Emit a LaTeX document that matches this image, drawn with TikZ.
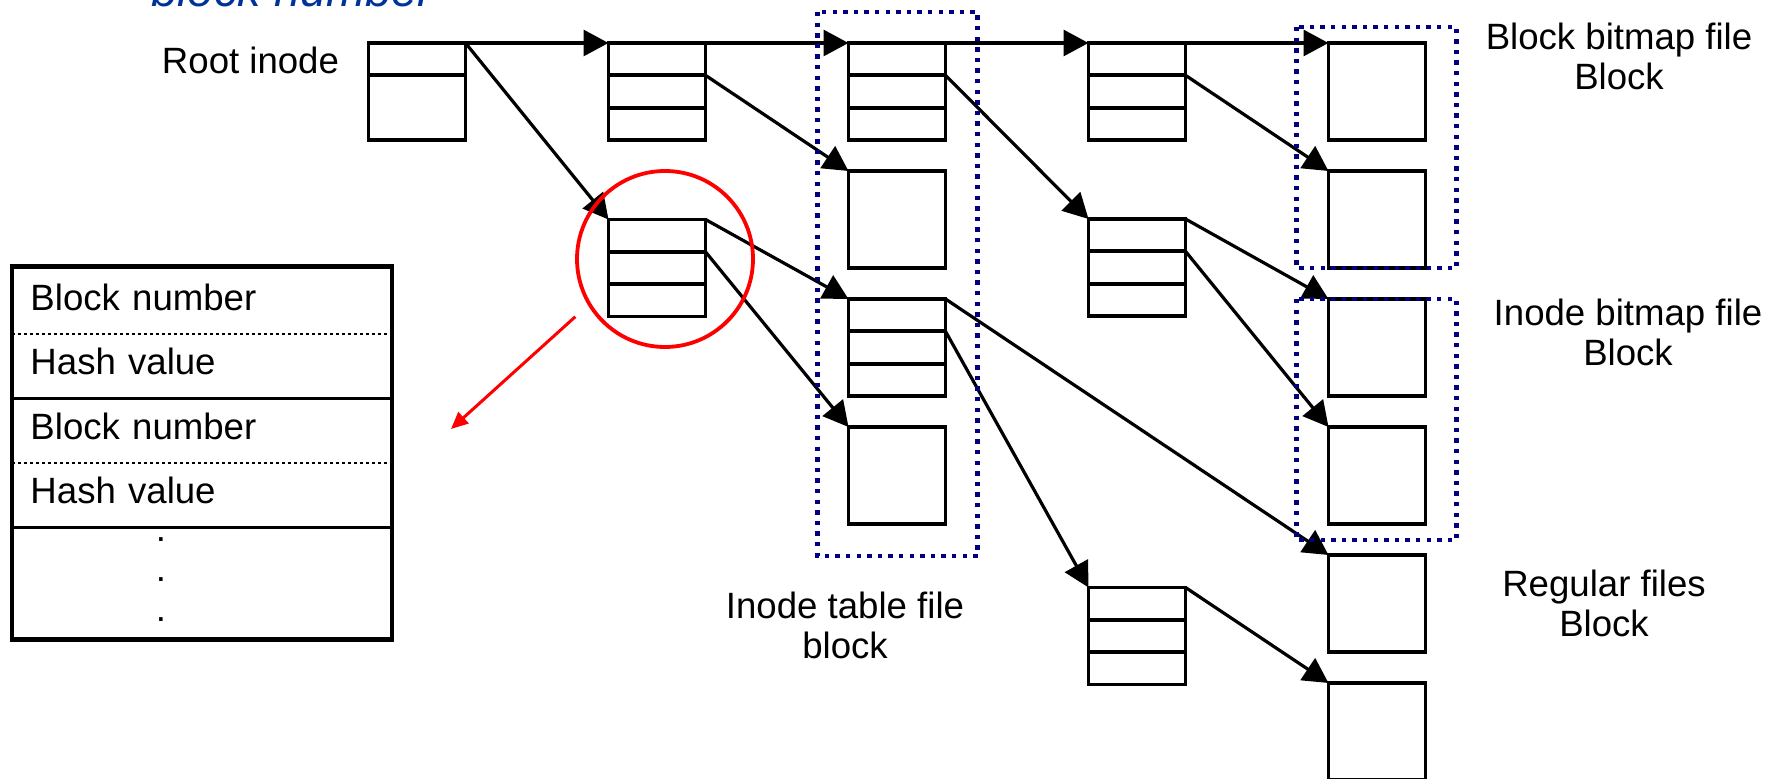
\documentclass[tikz,border=0pt]{standalone}
\usepackage{fontspec}
\setmainfont{Liberation Sans}
\usepackage{xcolor}
\usetikzlibrary{calc,arrows.meta,positioning}

\definecolor{grpblue}{RGB}{0,0,128}
\definecolor{noteblue}{RGB}{0,51,153}

\begin{document}
\begin{tikzpicture}[x=0.5pt,y=-0.5pt,node distance=120pt,line width=1.6pt,
    >={Triangle[length=12.5pt,width=13pt]},
    every node/.style={font=\fontsize{18.3pt}{20pt}\selectfont}]
  \tikzstyle{blk}=[draw,line width=1.9pt,inner sep=0pt,outer sep=0pt,minimum size=48.5pt]
  \tikzstyle{grp}=[draw=grpblue,line width=2.2pt,dash pattern=on 2.2pt off 3.1pt]
  \tikzstyle{row}=[minimum height=32.25pt,text width=171.5pt,inner xsep=8.5pt,
    inner ysep=0pt,text depth=3.5pt,align=left]
  \useasboundingbox (0,0) rectangle (1778,779);

  % inode tree
  \node[blk] (root) at (417,91.5) {};
  \node[blk] (ind1) [right of=root] {};
  \node[blk] (ind2) [below of=ind1,node distance=88.25pt] {};
  \node[blk] (tbl1) [right of=ind1] {};
  \node[blk] (tbl2) [below of=tbl1,node distance=64pt] {};
  \node[blk] (tbl3) [below of=tbl2,node distance=64pt] {};
  \node[blk] (tbl4) [below of=tbl3,node distance=64pt] {};
  \node[blk] (ind3) [right of=tbl1] {};
  \node[blk] (ind4) [below of=ind3,node distance=88pt] {};
  \node[blk] (ind5) [below of=ind4,node distance=184.25pt] {};
  \node[blk] (blk1) [right of=ind3] {};
  \node[blk] (blk2) [below of=blk1,node distance=64pt] {};
  \node[blk] (blk3) [below of=blk2,node distance=64pt] {};
  \node[blk] (blk4) [below of=blk3,node distance=64pt] {};
  \node[blk] (blk5) [below of=blk4,node distance=64pt] {};
  \node[blk] (blk6) [below of=blk5,node distance=64pt] {};

  % entry rows inside the index blocks
  \foreach \n in {root,ind1,ind2,tbl1,tbl3,ind3,ind4,ind5} {
    \coordinate (\n-w) at ($(\n.north west)!1/3!(\n.south west)$);
    \coordinate (\n-e) at ($(\n.north east)!1/3!(\n.south east)$);
    \draw[line width=1.9pt] (\n-w) -- (\n-e);
  }
  \foreach \n in {ind1,ind2,tbl1,tbl3,ind3,ind4,ind5}
    \draw[line width=1.9pt] ($(\n.north west)!2/3!(\n.south west)$) -- ($(\n.north east)!2/3!(\n.south east)$);

  \path[->]
  (root.north east) edge (ind1.north west)
  (ind1.north east) edge (tbl1.north west)
  (tbl1.north east) edge (ind3.north west)
  (ind3.north east) edge (blk1.north west)
  (root.north east) edge (ind2.north west)
  (ind1-e) edge (tbl2.north west)
  (ind2.north east) edge (tbl3.north west)
  (ind2-e) edge (tbl4.north west)
  (tbl1-e) edge (ind4.north west)
  (tbl3.north east) edge (blk5.north west)
  (tbl3-e) edge (ind5.north west)
  (ind3-e) edge (blk2.north west)
  (ind4.north east) edge (blk3.north west)
  (ind4-e) edge (blk4.north west)
  (ind5.north east) edge (blk6.north west)
  ;

  \draw[grp] ([xshift=-15.5pt,yshift=15.5pt]tbl1.north west) rectangle ([xshift=16pt,yshift=-16pt]tbl4.south east);
  \draw[grp] ([xshift=-16pt,yshift=8pt]blk1.north west) rectangle ([xshift=15.5pt]blk2.south east);
  \draw[grp] ([xshift=-16pt]blk3.north west) rectangle ([xshift=15.5pt,yshift=-8pt]blk4.south east);

  % labels
  \node (note) [above of=root,node distance=50.75pt,xshift=-62.25pt,text=noteblue,
    font=\fontsize{23.5pt}{26pt}\selectfont\itshape] {block number};
  \node (rootlbl) [left of=root,node distance=83.25pt,yshift=15.4pt] {Root inode};
  \node (itlbl) [below of=tbl4,node distance=75pt,xshift=-26pt,align=center] {Inode table file\\block};
  \node (bbmlbl) [right of=blk1,node distance=121pt,yshift=17.4pt,align=center] {Block bitmap file\\Block};
  \node (ibmlbl) [right of=blk3,node distance=125.5pt,yshift=7.4pt,align=center] {Inode bitmap file\\Block};
  \node (reglbl) [right of=blk5,node distance=113.5pt,align=center] {Regular files\\Block};

  % entry layout
  \node[row] (row1) at (202,300.25) {Block number};
  \node[row] (row2) [below of=row1,node distance=32.25pt] {Hash value};
  \node[row] (row3) [below of=row2,node distance=32.25pt] {Block number};
  \node[row] (row4) [below of=row3,node distance=32.25pt] {Hash value};
  \node[row,minimum height=56pt] (row5) [below of=row4,node distance=44.125pt] {};
  \node[align=center,inner sep=0pt] (dots) [left of=row5,node distance=20.5pt,yshift=1pt] {.\\.\\.};
  \draw[line width=1.4pt,dash pattern=on 1.4pt off 1.6pt] (row1.south west) -- (row1.south east);
  \draw[line width=1.7pt] (row2.south west) -- (row2.south east);
  \draw[line width=1.4pt,dash pattern=on 1.4pt off 1.6pt] (row3.south west) -- (row3.south east);
  \draw[line width=1.7pt] (row4.south west) -- (row4.south east);
  \draw[line width=2.3pt] (row1.north west) rectangle (row5.south east);

  % zoomed entry
  \node[draw=red,circle,line width=1.9pt,minimum size=88pt,inner sep=0pt] (mark) [xshift=4pt,yshift=4.5pt] at (ind2) {};
  \coordinate (ptr) at (451,429);
  \draw[red,line width=1.5pt,-{Triangle[length=8.5pt,width=7.5pt]},shorten <=8.5pt] (mark.211) -- (ptr);
\end{tikzpicture}
\end{document}
